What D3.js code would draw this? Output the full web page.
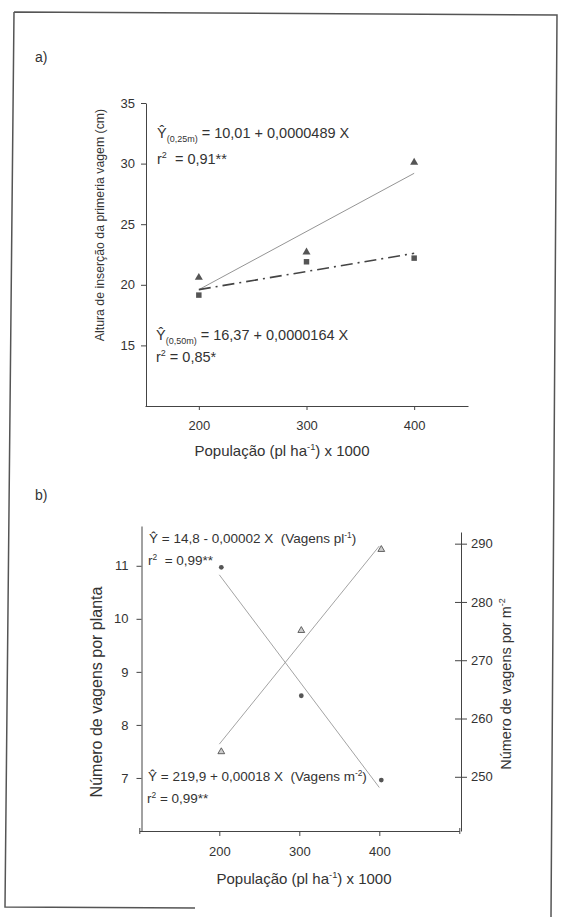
<!DOCTYPE html>
<html>
<head>
<meta charset="utf-8">
<script src="https://cdn.jsdelivr.net/npm/d3@7"></script>
<style>
  body { margin: 0; background: #fff; }
  svg { font-family: "Liberation Sans", Arial, sans-serif; }
  svg text { white-space: pre; }
  .axis path, .axis line { stroke: #444; }
  .axis text { fill: #333; font-size: 13px; }
</style>
</head>
<body>
<script>
// panel a data
var popA = [200, 300, 400];
var altura25 = [20.6, 22.7, 30.1];
var altura50 = [19.15, 21.9, 22.2];
var fit25 = [19.6, 29.2];   // fitted line ends at 200 and 400
var fit50 = [19.6, 22.6];
var ticksAY = [15, 20, 25, 30, 35];
var ticksAX = [200, 300, 400];

// panel b data
var popB = [200, 300, 400];
var vagensPl = [10.97, 8.55, 6.96];
var vagensM2 = [254.3, 275.1, 289.0];
var fitPl = [10.83, 6.82];
var fitM2 = [255.6, 289.6];
var ticksBL = [7, 8, 9, 10, 11];
var ticksBR = [250, 260, 270, 280, 290];
var ticksBX = [100, 200, 300, 400, 500];

var svg = d3.select('body').append('svg').attr('width', 571).attr('height', 917);

// scanned frame
svg.append('path')
    .attr('d', 'M14,12 L557,15 L551,917 M14,12 L5,907 L195,908')
    .attr('fill', 'none').attr('stroke', '#555').attr('stroke-width', 1.5);

// text with sub/superscripts: parts = [[text, 'sub'|'sup'|null], ...]
function rich(g, x, y, size, parts, anchor) {
    var t = g.append('text').attr('x', x).attr('y', y).attr('fill', '#333')
        .style('font-size', size + 'px').attr('text-anchor', anchor || 'start');
    var shift = 0;
    parts.forEach(function (p) {
        var want = p[1] === 'sub' ? size * 0.25 : p[1] === 'sup' ? -size * 0.4 : 0;
        var s = t.append('tspan').attr('dy', want - shift).text(p[0]);
        if (p[1]) s.style('font-size', (size * 0.62) + 'px');
        shift = want;
    });
    return t;
}

// ---------- panel a ----------
var gA = svg.append('g');
gA.append('text').attr('x', 35).attr('y', 62).attr('fill', '#333').style('font-size', '14px').text('a)');

var xA = d3.scaleLinear().domain([150, 450]).range([145, 468]);
var yA = d3.scaleLinear().domain([10, 35]).range([406, 103]);

gA.append('g').attr('class', 'axis').attr('transform', 'translate(0,406)')
    .call(d3.axisBottom(xA).tickValues(ticksAX).tickSize(4).tickSizeOuter(0).tickPadding(11));
gA.append('g').attr('class', 'axis').attr('transform', 'translate(146,0)')
    .call(d3.axisLeft(yA).tickValues(ticksAY).tickSize(5).tickSizeOuter(0).tickPadding(6));

rich(gA, 282, 456, 15, [['População (pl ha'], ['-1', 'sup'], [') x 1000']], 'middle');

gA.append('text').attr('transform', 'translate(104,225) rotate(-90)').attr('text-anchor', 'middle')
    .attr('fill', '#333').style('font-size', '12.3px').text('Altura de inserção da primeria vagem (cm)');

var line2 = d3.line().x(function (d) { return xA(d[0]); }).y(function (d) { return yA(d[1]); });
gA.append('path').attr('d', line2([[200, fit25[0]], [400, fit25[1]]]))
    .attr('fill', 'none').attr('stroke', '#888').attr('stroke-width', 0.9);
gA.append('path').attr('d', line2([[200, fit50[0]], [400, fit50[1]]]))
    .attr('fill', 'none').attr('stroke', '#444').attr('stroke-width', 1.6)
    .attr('stroke-dasharray', '12,5,2,5');

gA.selectAll('.tri').data(popA).enter().append('path')
    .attr('transform', function (d, i) { return 'translate(' + xA(d) + ',' + yA(altura25[i]) + ')'; })
    .attr('d', d3.symbol().type(d3.symbolTriangle).size(28)).attr('fill', '#555');
gA.selectAll('.sq').data(popA).enter().append('path')
    .attr('transform', function (d, i) { return 'translate(' + xA(d) + ',' + yA(altura50[i]) + ')'; })
    .attr('d', d3.symbol().type(d3.symbolSquare).size(30)).attr('fill', '#555');

rich(gA, 157, 138, 14.5, [['Ŷ'], ['(0,25m)', 'sub'], [' = 10,01 + 0,0000489 X']]);
rich(gA, 157, 164, 14.5, [['r'], ['2', 'sup'], ['  = 0,91**']]);
rich(gA, 156, 340, 14.5, [['Ŷ'], ['(0,50m)', 'sub'], [' = 16,37 + 0,0000164 X']]);
rich(gA, 156, 362, 14.5, [['r'], ['2', 'sup'], [' = 0,85*']]);

// ---------- panel b ----------
var gB = svg.append('g');
gB.append('text').attr('x', 35).attr('y', 500).attr('fill', '#333').style('font-size', '14px').text('b)');

var xB = d3.scaleLinear().domain([100, 500]).range([139.3, 459.3]);
var yL = d3.scaleLinear().domain([6, 11.75]).range([831, 526]);
var yR = d3.scaleLinear().domain([240.7, 292]).range([831, 532]);

var axX = gB.append('g').attr('class', 'axis').attr('transform', 'translate(0,831)')
    .call(d3.axisBottom(xB).tickValues(ticksBX).tickSize(5).tickSizeOuter(0).tickPadding(11)
        .tickFormat(function (d) { return (d === 100 || d === 500) ? '' : d; }));
axX.selectAll('.tick').filter(function (d) { return d === 100 || d === 500; })
    .select('line').attr('y1', -3).attr('y2', 3);

gB.append('g').attr('class', 'axis').attr('transform', 'translate(141.5,0)')
    .call(d3.axisLeft(yL).tickValues(ticksBL).tickSize(5).tickSizeOuter(0).tickPadding(8)
        .tickFormat(d3.format('d')));
var axR = gB.append('g').attr('class', 'axis').attr('transform', 'translate(461,0)')
    .call(d3.axisRight(yR).tickValues(ticksBR).tickSize(6).tickSizeOuter(0).tickPadding(4));
axR.selectAll('.tick line').attr('x1', -6);

rich(gB, 304, 884, 15, [['População (pl ha'], ['-1', 'sup'], [') x 1000']], 'middle');

gB.append('text').attr('transform', 'translate(102,692) rotate(-90)').attr('text-anchor', 'middle')
    .attr('fill', '#333').style('font-size', '16px').text('Número de vagens por planta');
var tR = rich(gB, 0, 0, 14.5, [['Número de vagens por m'], ['-2', 'sup']], 'middle');
tR.attr('transform', 'translate(511,684) rotate(-90)');

var lineL = d3.line().x(function (d) { return xB(d[0]); }).y(function (d) { return yL(d[1]); });
var lineR = d3.line().x(function (d) { return xB(d[0]); }).y(function (d) { return yR(d[1]); });
gB.append('path').attr('d', lineL([[200, fitPl[0]], [400, fitPl[1]]]))
    .attr('fill', 'none').attr('stroke', '#999').attr('stroke-width', 0.9);
gB.append('path').attr('d', lineR([[200, fitM2[0]], [400, fitM2[1]]]))
    .attr('fill', 'none').attr('stroke', '#999').attr('stroke-width', 0.9);

gB.selectAll('.dot').data(popB).enter().append('path')
    .attr('transform', function (d, i) { return 'translate(' + (xB(d) + 2) + ',' + yL(vagensPl[i]) + ')'; })
    .attr('d', d3.symbol().type(d3.symbolCircle).size(18)).attr('fill', '#555');
gB.selectAll('.otri').data(popB).enter().append('path')
    .attr('transform', function (d, i) { return 'translate(' + (xB(d) + 2) + ',' + yR(vagensM2[i]) + ')'; })
    .attr('d', d3.symbol().type(d3.symbolTriangle).size(20))
    .attr('fill', '#ccc').attr('stroke', '#555').attr('stroke-width', 0.9);

rich(gB, 149, 543, 13.5, [['Ŷ = 14,8 - 0,00002 X  (Vagens pl'], ['-1', 'sup'], [')']]);
rich(gB, 148, 565, 13.5, [['r'], ['2', 'sup'], ['  = 0,99**']]);

rich(gB, 148, 781, 13.5, [['Ŷ = 219,9 + 0,00018 X  (Vagens m'], ['-2', 'sup'], [')']]);
rich(gB, 147, 803, 13.5, [['r'], ['2', 'sup'], [' = 0,99**']]);
</script>
</body>
</html>
